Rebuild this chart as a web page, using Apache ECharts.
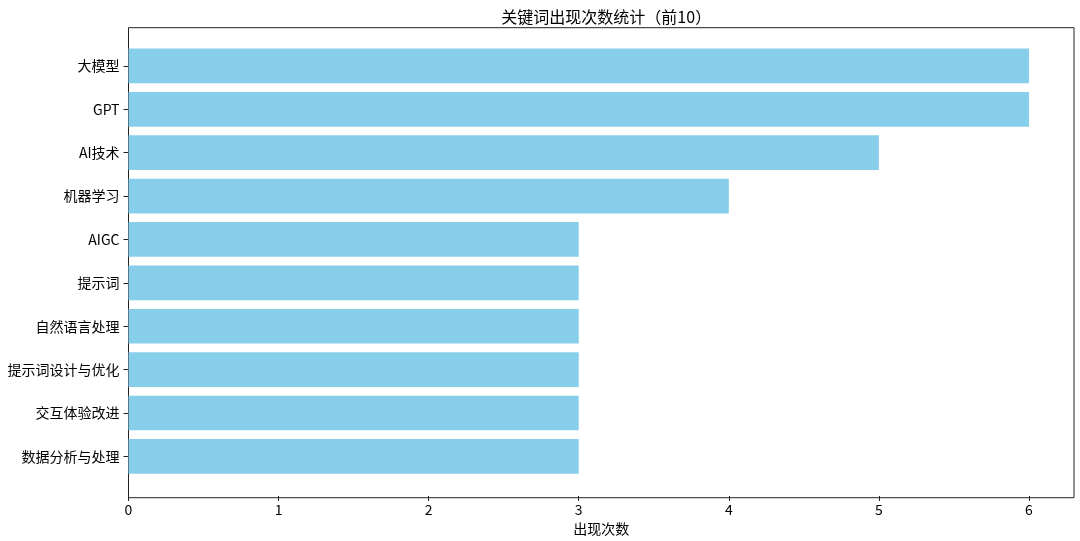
<!DOCTYPE html>
<html>
<head>
<meta charset="utf-8">
<script src="https://cdn.jsdelivr.net/npm/echarts@6/dist/echarts.min.js"></script>
<style>
html,body{margin:0;padding:0;background:#fff;}
#main{width:1080px;height:541px;}
</style>
</head>
<body>
<div id="main"></div>
<script>
const categories = ['大模型','GPT','AI技术','机器学习','AIGC','提示词','自然语言处理','提示词设计与优化','交互体验改进','数据分析与处理'];
const counts = [6,6,5,4,3,3,3,3,3,3];
const xTicks = [0,1,2,3,4,5,6];
const titleText = '关键词出现次数统计（前10）';
const xName = '出现次数';

const FONT = '"Noto Sans CJK SC", "DejaVu Sans", sans-serif';
const chart = echarts.init(document.getElementById('main'), null, {renderer:'canvas'});
const L = 128.5, R = 6, frameTop = 27.7, frameBottom = 541 - 497.7;
const bandTop = 44.2, bandBottom = 541 - 479.8;

chart.setOption({
  backgroundColor:'#fff',
  animation:false,
  title:{
    text:titleText,
    left: (L + (1080 - R)) / 2,
    textAlign:'center',
    top: 4,
    textStyle:{fontFamily:FONT,fontSize:16,fontWeight:'normal',color:'#000'}
  },
  grid:[
    {left:L,right:R,top:bandTop,bottom:bandBottom,containLabel:false},
    {left:L,right:R,top:frameTop,bottom:frameBottom,show:true,borderColor:'#222',borderWidth:1,backgroundColor:'transparent'}
  ],
  xAxis:[
    {
      type:'value',gridIndex:0,min:0,max:6.3,interval:1,
      offset: (497.7 - 479.8),
      axisLine:{show:false},
      axisTick:{show:true,length:5,lineStyle:{color:'#222'},customValues:xTicks},
      axisLabel:{color:'#000',fontFamily:FONT,fontSize:14,margin:7,customValues:xTicks},
      splitLine:{show:false},
      name:xName,nameLocation:'middle',nameGap:26,
      nameTextStyle:{color:'#000',fontFamily:FONT,fontSize:14}
    },
    {type:'value',gridIndex:1,show:false,min:0,max:1}
  ],
  yAxis:[
    {
      type:'category',gridIndex:0,data:categories,inverse:true,
      axisLine:{show:false},
      axisTick:{show:true,length:5,alignWithLabel:true,lineStyle:{color:'#222'}},
      axisLabel:{color:'#000',fontFamily:FONT,fontSize:14,margin:9},
      splitLine:{show:false}
    },
    {type:'value',gridIndex:1,show:false,min:0,max:1}
  ],
  series:[{
    type:'bar',xAxisIndex:0,yAxisIndex:0,
    data:counts,
    barWidth:'80%',
    itemStyle:{color:'#87CEEB'},
    silent:true
  }]
});
</script>
</body>
</html>
